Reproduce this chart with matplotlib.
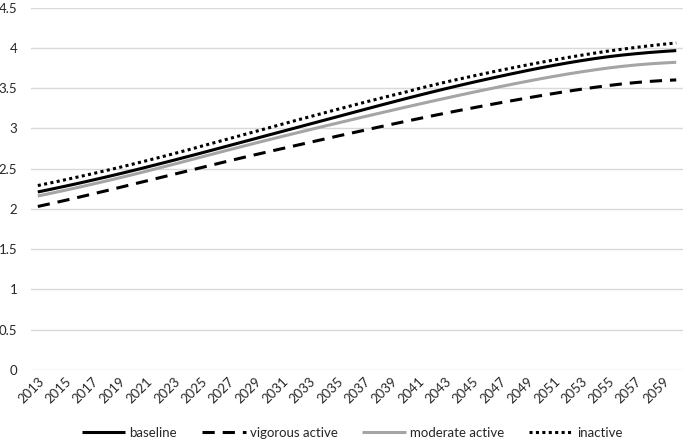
import matplotlib.pyplot as plt
import numpy as np

plt.rcParams['font.family'] = ['Lato', 'DejaVu Sans']

years = list(range(2013, 2061))

baseline = [2.210, 2.245, 2.281, 2.318, 2.356, 2.395, 2.435, 2.476, 2.518, 2.561,
            2.604, 2.648, 2.692, 2.737, 2.782, 2.827, 2.872, 2.917, 2.962, 3.007,
            3.052, 3.097, 3.142, 3.187, 3.232, 3.277, 3.321, 3.365, 3.408, 3.450,
            3.491, 3.531, 3.570, 3.608, 3.645, 3.681, 3.716, 3.750, 3.782, 3.812,
            3.840, 3.866, 3.889, 3.909, 3.926, 3.941, 3.954, 3.965]

vigorous = [2.030, 2.067, 2.105, 2.144, 2.184, 2.224, 2.265, 2.306, 2.347, 2.388,
            2.429, 2.470, 2.511, 2.552, 2.593, 2.633, 2.672, 2.711, 2.749, 2.787,
            2.825, 2.863, 2.901, 2.938, 2.975, 3.012, 3.048, 3.084, 3.119, 3.154,
            3.188, 3.221, 3.253, 3.285, 3.316, 3.346, 3.376, 3.405, 3.433, 3.460,
            3.485, 3.509, 3.531, 3.551, 3.568, 3.582, 3.593, 3.601]

moderate = [2.160, 2.195, 2.231, 2.268, 2.306, 2.345, 2.385, 2.426, 2.468, 2.511,
            2.554, 2.598, 2.642, 2.686, 2.730, 2.773, 2.816, 2.858, 2.900, 2.941,
            2.982, 3.023, 3.063, 3.103, 3.143, 3.182, 3.221, 3.260, 3.298, 3.336,
            3.373, 3.410, 3.446, 3.481, 3.516, 3.550, 3.583, 3.615, 3.645, 3.674,
            3.701, 3.726, 3.749, 3.769, 3.786, 3.800, 3.811, 3.820]

inactive = [2.290, 2.325, 2.361, 2.398, 2.436, 2.475, 2.515, 2.556, 2.598, 2.641,
            2.685, 2.730, 2.776, 2.822, 2.868, 2.914, 2.960, 3.006, 3.052, 3.098,
            3.143, 3.188, 3.233, 3.277, 3.321, 3.364, 3.406, 3.447, 3.492, 3.533,
            3.573, 3.611, 3.648, 3.684, 3.719, 3.753, 3.786, 3.818, 3.849, 3.879,
            3.907, 3.934, 3.959, 3.982, 4.004, 4.024, 4.043, 4.060]

y_ticks = [0, 0.5, 1, 1.5, 2, 2.5, 3, 3.5, 4, 4.5]
y_labels = ['0', '0.5', '1', '1.5', '2', '2.5', '3', '3.5', '4', '4.5']

fig = plt.figure(figsize=(6.85, 4.44), dpi=100)
ax = fig.add_axes([0.0453, 0.1667, 0.9518, 0.8164])

x = np.arange(len(years))
lw = 2.2
ax.plot(x, baseline, color='black', lw=lw, label='baseline', solid_capstyle='butt')
ax.plot(x, vigorous, color='black', lw=lw, linestyle=(0, (4, 2.6)), label='vigorous active')
ax.plot(x, moderate, color='#a5a5a5', lw=lw, label='moderate active', solid_capstyle='butt')
ax.plot(x, inactive, color='black', lw=lw, linestyle=(0, (1, 1.1)), label='inactive')

ax.set_xlim(-0.5, len(years) - 0.5)
ax.set_ylim(0, 4.5)
ax.set_yticks(y_ticks)
ax.set_yticklabels(y_labels)
ax.set_xticks(x[::2])
ax.set_xticklabels([str(y) for y in years[::2]], rotation=45, ha='right', va='top',
                   rotation_mode='anchor')

ax.grid(axis='y', color='#d9d9d9', lw=1)
ax.set_axisbelow(True)
for s in ax.spines.values():
    s.set_visible(False)
ax.tick_params(length=0, labelsize=9.5, colors='#262626')
ax.tick_params(axis='y', pad=10)
ax.tick_params(axis='x', pad=4)

fig.legend(loc='center', bbox_to_anchor=(0.514, 0.025), ncol=4, frameon=False,
           fontsize=9.5, handlelength=3.3, handletextpad=0.3, columnspacing=1.9,
           labelcolor='#262626')

fig.savefig('out.png', dpi=100)
